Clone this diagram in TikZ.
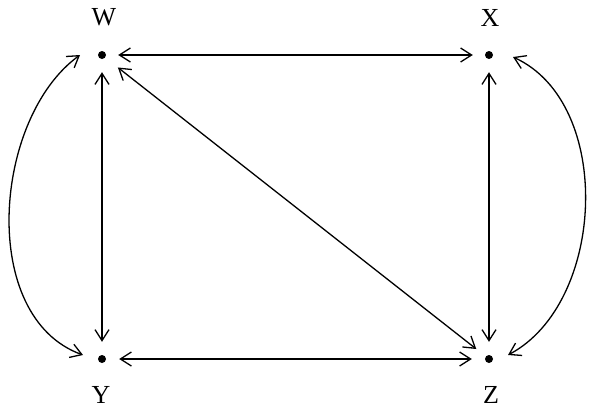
\documentclass[tikz,border=0pt]{standalone}
\usepackage{fontspec}
\setmainfont{Liberation Serif}
\usetikzlibrary{arrows.meta}
\begin{document}
\begin{tikzpicture}[x=1pt,y=-1pt,
  dot/.style={circle,fill=black,inner sep=0pt,minimum size=8pt},
  lbl/.style={inner sep=0pt,font=\fontsize{26}{26}\selectfont},
  tip/.style={Straight Barb[length=11pt,width=14pt,line width=1.3pt]},
  arr/.style={line width=1.3pt,{Straight Barb[length=11pt,width=14pt,line width=1.3pt]}-{Straight Barb[length=11pt,width=14pt,line width=1.3pt]}},
  sh/.style={shorten <=#1,shorten >=#1}]
\useasboundingbox (0,0) rectangle (601,416);
\node[dot] (W) at (102,55) {};
\node[dot] (X) at (489,55) {};
\node[dot] (Y) at (102,359) {};
\node[dot] (Z) at (489,359) {};
\node[lbl] (lW) at (104,17) {W};
\node[lbl] (lX) at (490,17.5) {X};
\node[lbl] (lY) at (101,395) {Y};
\node[lbl] (lZ) at (491,395) {Z};
\draw[arr,sh=12pt] (W) -- (X);
\draw[arr,sh=13pt] (Y) -- (Z);
\draw[arr,sh=13pt] (W) -- (Y);
\draw[arr,sh=13pt] (X) -- (Z);
\draw[arr,shorten <=16pt,shorten >=12pt] (W) -- (Z);
\coordinate (wl) at (80,55);
\coordinate (yl) at (83,355);
\coordinate (xr) at (513,57);
\coordinate (zr) at (508,355);
\draw[arr] (wl) .. controls +(-87,63) and +(-105,-38) .. (yl);
\draw[arr] (xr) .. controls +(101,46) and +(98,-52) .. (zr);
\end{tikzpicture}
\end{document}
